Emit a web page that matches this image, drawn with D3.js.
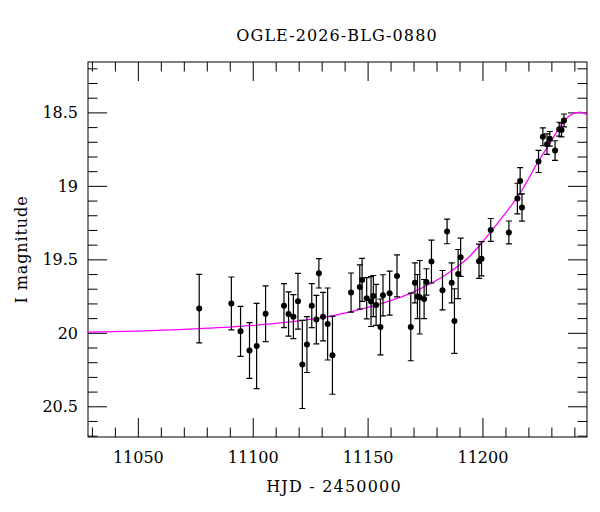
<!DOCTYPE html>
<html>
<head>
<meta charset="utf-8">
<script src="https://cdn.jsdelivr.net/npm/d3@7"></script>
<style>
  body { margin: 0; background: #fff; }
  text { font-family: "DejaVu Serif", serif; fill: #000; }
</style>
</head>
<body>
<div id="chart"></div>
<script>
// photometry
const hjd = [
    11076.7, 11090.7, 11094.7, 11098.6, 11101.7, 11105.6, 11113.6, 11115.6, 11117.7, 11119.7,
    11121.6, 11123.6, 11125.7, 11127.7, 11128.8, 11130.6, 11132.6, 11134.7, 11142.8, 11146.6,
    11147.6, 11149.6, 11151.5, 11152.5, 11153.7, 11155.6, 11156.7, 11159.6, 11162.8, 11168.8,
    11170.6, 11171.7, 11172.7, 11174.6, 11175.6, 11177.8, 11182.6, 11184.6, 11186.6, 11187.8,
    11189.4, 11190.5, 11198.5, 11199.6, 11203.6, 11211.5, 11215.2, 11216.4, 11217.2, 11224.4,
    11226.3, 11228.1, 11229.3, 11231.6, 11233.4, 11234.4, 11235.5
];
const mag = [
    19.835, 19.80, 19.99, 20.12, 20.09, 19.87, 19.815, 19.872, 19.89, 19.785,
    20.215, 20.08, 19.815, 19.91, 19.595, 19.89, 19.94, 20.153, 19.726, 19.688,
    19.64, 19.765, 19.787, 19.75, 19.81, 19.96, 19.745, 19.73, 19.613, 19.96,
    19.66, 19.753, 19.758, 19.77, 19.654, 19.515, 19.71, 19.31, 19.66, 19.92,
    19.60, 19.486, 19.513, 19.496, 19.30, 19.317, 19.086, 18.966, 19.147, 18.834,
    18.666, 18.716, 18.68, 18.76, 18.614, 18.62, 18.555
];
const magErr = [
    0.233, 0.18, 0.17, 0.19, 0.29, 0.19, 0.15, 0.15, 0.15, 0.19,
    0.30, 0.19, 0.15, 0.165, 0.10, 0.165, 0.245, 0.265, 0.133, 0.15,
    0.146, 0.14, 0.17, 0.14, 0.14, 0.19, 0.14, 0.15, 0.143, 0.23,
    0.136, 0.15, 0.25, 0.133, 0.09, 0.146, 0.134, 0.084, 0.136, 0.22,
    0.167, 0.13, 0.116, 0.116, 0.078, 0.078, 0.104, 0.09, 0.093, 0.075,
    0.061, 0.07, 0.05, 0.067, 0.047, 0.047, 0.044
];

// model curve, sampled from the plotted fit
const modelHjd = [11028.1, 11050, 11070.3, 11094.3, 11116.1, 11133.5, 11150.9, 11168.3,
    11185.8, 11194.5, 11198.8, 11203.5, 11209.0, 11216.3, 11224.2, 11229.3, 11233.7,
    11238.0, 11240.9, 11242.3, 11243.8, 11245.8];
const modelMag = [19.995, 19.988, 19.976, 19.956, 19.926, 19.888, 19.824, 19.733,
    19.586, 19.479, 19.404, 19.315, 19.206, 19.052, 18.837, 18.711, 18.598,
    18.521, 18.502, 18.498, 18.503, 18.518];

const xMajor = [11050, 11100, 11150, 11200];
const yMajor = [18.5, 19, 19.5, 20, 20.5];

const title = "OGLE-2026-BLG-0880";
const xTitle = "HJD - 2450000";
const yTitle = "I magnitude";

const width = 600, height = 512;
const margin = {top: 62, right: 13, bottom: 75, left: 88};
const plotW = width - margin.left - margin.right;
const plotH = height - margin.top - margin.bottom;

const svg = d3.select("#chart").append("svg")
    .attr("width", width)
    .attr("height", height);

const x = d3.scaleLinear()
    .domain([11028.3, 11245.5])
    .range([margin.left, margin.left + plotW]);

// magnitudes: brighter is up
const y = d3.scaleLinear()
    .domain([18.157, 20.709])
    .range([margin.top, margin.top + plotH]);

const xMinor = d3.range(11030, 11245, 10).filter(v => !xMajor.includes(v));
const yMinor = d3.range(182, 208).map(v => v / 10).filter(v => !yMajor.includes(v));

const majorLen = 19, minorLen = 9.5;

function tickAxis(axisFn, scale, values, len) {
    return axisFn(scale).tickValues(values).tickSizeInner(-len).tickSizeOuter(0).tickFormat("");
}

const bottom = margin.top + plotH, right = margin.left + plotW;

// ticks on all four sides, pointing inward
const axes = [
    [d3.axisBottom, x, `translate(0,${bottom})`],
    [d3.axisTop, x, `translate(0,${margin.top})`],
    [d3.axisLeft, y, `translate(${margin.left},0)`],
    [d3.axisRight, y, `translate(${right},0)`]
];
axes.forEach(([fn, scale, tr]) => {
    const isX = scale === x;
    const g = svg.append("g").attr("transform", tr);
    g.append("g").call(tickAxis(fn, scale, isX ? xMajor : yMajor, majorLen));
    g.append("g").call(tickAxis(fn, scale, isX ? xMinor : yMinor, minorLen));
    g.selectAll(".domain").remove();
    g.selectAll("line").attr("stroke", "#000").attr("stroke-width", 1);
});

// tick labels
svg.append("g")
    .attr("transform", `translate(0,${bottom})`)
    .call(d3.axisBottom(x).tickValues(xMajor).tickSize(0).tickPadding(15).tickFormat(d3.format("d")))
    .call(g => g.select(".domain").remove())
    .selectAll("text")
    .attr("font-family", "DejaVu Serif")
    .attr("font-size", 16);

svg.append("g")
    .selectAll("text")
    .data(yMajor)
    .join("text")
    .attr("x", 78)
    .attr("y", d => y(d) + 6)
    .attr("text-anchor", "end")
    .attr("font-size", 16)
    .text(d => d3.format("")(d));

// frame
svg.append("rect")
    .attr("x", margin.left)
    .attr("y", margin.top)
    .attr("width", plotW)
    .attr("height", plotH)
    .attr("fill", "none")
    .attr("stroke", "#000")
    .attr("stroke-width", 1);

svg.append("clipPath").attr("id", "plotClip")
    .append("rect")
    .attr("x", margin.left)
    .attr("y", margin.top)
    .attr("width", plotW)
    .attr("height", plotH);

// model fit
const line = d3.line()
    .x((d, i) => x(modelHjd[i]))
    .y((d, i) => y(modelMag[i]))
    .curve(d3.curveMonotoneX);

svg.append("path")
    .datum(modelHjd)
    .attr("clip-path", "url(#plotClip)")
    .attr("d", line)
    .attr("fill", "none")
    .attr("stroke", "#ff00ff")
    .attr("stroke-width", 1.3);

// error bars and points
const pts = hjd.map((t, i) => ({t: t, m: mag[i], e: magErr[i]}));
const cap = 3;

const bars = svg.append("g")
    .attr("stroke", "#000")
    .attr("stroke-width", 1.2);

bars.selectAll(".bar")
    .data(pts)
    .join("path")
    .attr("class", "bar")
    .attr("fill", "none")
    .attr("d", d => {
        const cx = x(d.t), y0 = y(d.m - d.e), y1 = y(d.m + d.e);
        return `M${cx},${y0}V${y1}M${cx - cap},${y0}H${cx + cap}M${cx - cap},${y1}H${cx + cap}`;
    });

svg.append("g")
    .selectAll("circle")
    .data(pts)
    .join("circle")
    .attr("cx", d => x(d.t))
    .attr("cy", d => y(d.m))
    .attr("r", 3)
    .attr("fill", "#000");

// titles
svg.append("text")
    .attr("x", 337)
    .attr("y", 40.7)
    .attr("text-anchor", "middle")
    .attr("font-size", 16)
    .attr("letter-spacing", 1.1)
    .text(title);

svg.append("text")
    .attr("x", 334)
    .attr("y", 491.7)
    .attr("text-anchor", "middle")
    .attr("font-size", 16)
    .attr("letter-spacing", 1.2)
    .text(xTitle);

svg.append("text")
    .attr("transform", `translate(26.5,${margin.top + plotH / 2}) rotate(-90)`)
    .attr("text-anchor", "middle")
    .attr("font-size", 16)
    .attr("letter-spacing", 0.9)
    .text(yTitle);
</script>
</body>
</html>
